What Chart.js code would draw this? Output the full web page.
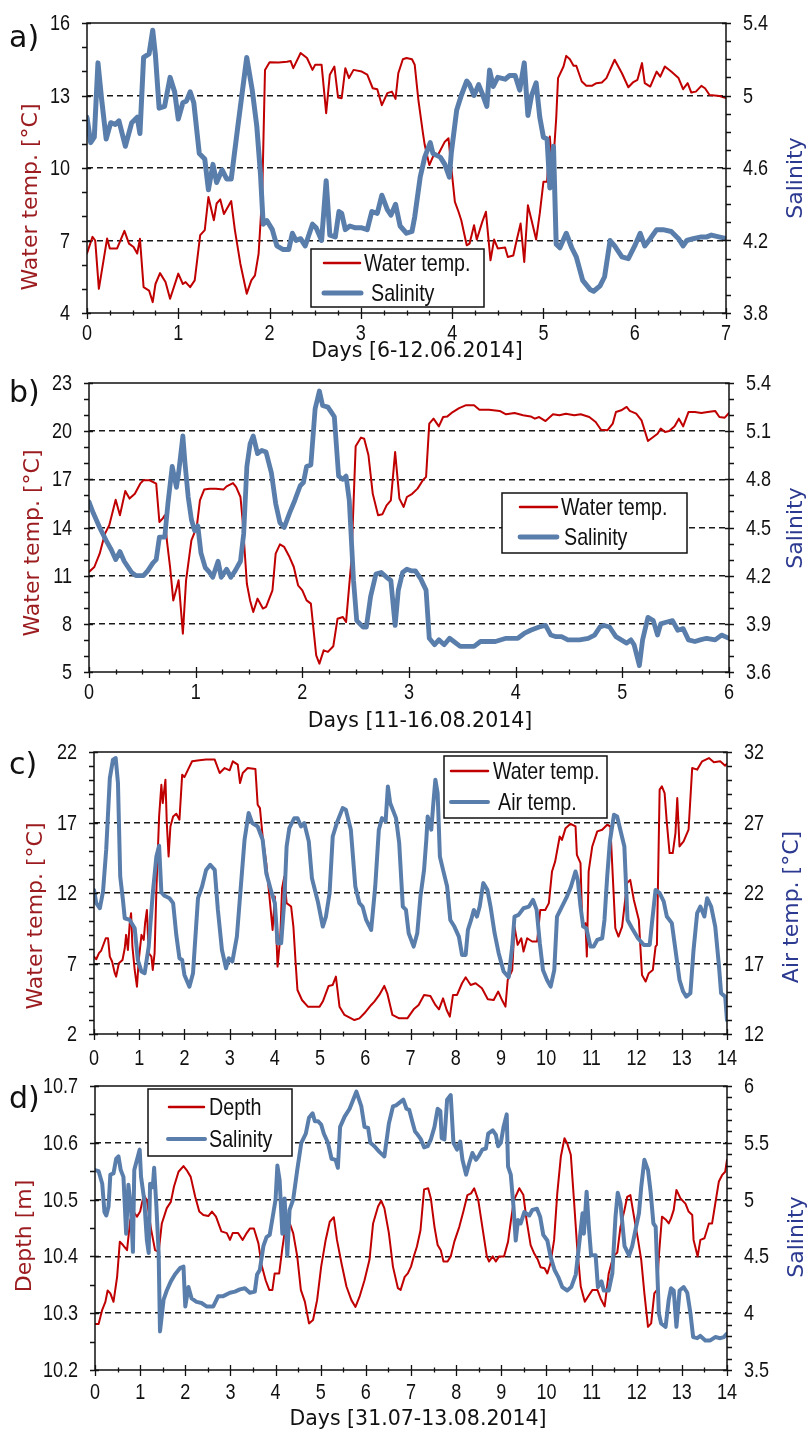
<!DOCTYPE html>
<html>
<head>
<meta charset="utf-8">
<script src="https://cdn.jsdelivr.net/npm/chart.js@4.4.1/dist/chart.umd.min.js"></script>
<style>
  body { margin: 0; background: #fff; }
  #wrap { position: relative; width: 809px; height: 1435px; }
  #wrap canvas { position: absolute; left: 0; }
</style>
</head>
<body>
<div id="wrap">
  <canvas id="panelA" width="809" height="364" style="top:0px"></canvas>
  <canvas id="panelB" width="809" height="370" style="top:364px"></canvas>
  <canvas id="panelC" width="809" height="336" style="top:734px"></canvas>
  <canvas id="panelD" width="809" height="365" style="top:1070px"></canvas>
</div>
<script>
// ---- data: [day, value] ----
const waterTempA = [[0,6.46],[0.06,7.15],[0.09,7.0],[0.13,5.0],[0.22,7.08],[0.25,6.67],[0.33,6.67],[0.41,7.4],[0.46,6.87],[0.51,6.73],[0.55,6.46],[0.58,7.07],[0.62,5.07],[0.68,4.93],[0.72,4.45],[0.75,5.2],[0.8,5.65],[0.86,5.28],[0.91,4.59],[1.0,5.63],[1.05,5.2],[1.08,5.28],[1.13,5.07],[1.18,5.35],[1.24,7.22],[1.29,7.43],[1.33,8.8],[1.39,7.84],[1.42,8.53],[1.46,8.7],[1.5,8.1],[1.58,8.63],[1.62,7.43],[1.68,6.04],[1.75,4.8],[1.8,5.35],[1.84,5.56],[1.88,6.46],[1.92,8.95],[1.95,14.06],[2.0,14.38],[2.1,14.37],[2.19,14.4],[2.23,14.43],[2.26,14.13],[2.34,14.76],[2.41,14.55],[2.47,14.06],[2.5,14.27],[2.57,14.27],[2.62,12.27],[2.66,13.86],[2.71,14.2],[2.75,12.92],[2.79,12.89],[2.83,14.13],[2.87,13.72],[2.92,14.06],[3.01,13.99],[3.07,13.86],[3.13,13.3],[3.18,13.26],[3.23,12.6],[3.29,13.1],[3.34,13.16],[3.38,12.86],[3.41,13.92],[3.46,14.5],[3.5,14.55],[3.56,14.5],[3.59,14.27],[3.63,12.82],[3.68,11.44],[3.7,10.95],[3.75,10.12],[3.79,10.47],[3.85,10.58],[3.92,11.09],[3.96,11.23],[3.99,10.05],[4.03,8.6],[4.07,8.19],[4.1,7.84],[4.16,6.8],[4.19,6.87],[4.24,7.63],[4.27,7.04],[4.33,7.77],[4.37,8.19],[4.42,6.18],[4.46,7.04],[4.5,6.67],[4.58,6.71],[4.61,6.32],[4.67,6.38],[4.7,6.9],[4.75,7.7],[4.79,6.11],[4.83,8.46],[4.87,7.84],[4.92,7.04],[4.96,8.12],[5.0,9.43],[5.04,9.43],[5.07,11.3],[5.1,9.78],[5.14,12.06],[5.16,13.72],[5.22,14.2],[5.25,14.64],[5.29,14.5],[5.33,14.23],[5.36,14.23],[5.42,13.58],[5.47,13.4],[5.53,13.4],[5.58,13.51],[5.64,13.54],[5.69,13.72],[5.73,14.06],[5.78,14.48],[5.86,13.92],[5.93,13.34],[5.98,13.54],[6.03,13.65],[6.08,14.34],[6.11,13.51],[6.17,13.37],[6.24,13.99],[6.28,13.78],[6.33,14.2],[6.4,13.99],[6.48,13.72],[6.53,13.26],[6.58,13.51],[6.62,13.12],[6.67,13.16],[6.73,13.4],[6.77,13.3],[6.82,13.02],[6.93,12.98],[7.0,12.89]];
const salinityA = [[0,4.88],[0.04,4.74],[0.08,4.77],[0.12,5.18],[0.16,4.98],[0.21,4.76],[0.26,4.85],[0.31,4.84],[0.35,4.86],[0.42,4.72],[0.49,4.85],[0.55,4.88],[0.58,4.79],[0.62,5.21],[0.68,5.23],[0.72,5.36],[0.75,5.22],[0.79,4.93],[0.85,4.94],[0.91,5.1],[0.96,5.02],[1.0,4.87],[1.05,4.96],[1.09,4.97],[1.13,5.02],[1.17,4.96],[1.23,4.68],[1.29,4.65],[1.33,4.48],[1.38,4.62],[1.42,4.52],[1.48,4.59],[1.53,4.54],[1.58,4.54],[1.65,4.82],[1.75,5.21],[1.81,5.03],[1.86,4.83],[1.9,4.57],[1.93,4.29],[1.97,4.31],[2.03,4.26],[2.08,4.17],[2.15,4.15],[2.21,4.15],[2.25,4.24],[2.29,4.2],[2.34,4.21],[2.39,4.17],[2.47,4.29],[2.51,4.27],[2.57,4.2],[2.62,4.53],[2.66,4.23],[2.72,4.22],[2.76,4.36],[2.79,4.35],[2.83,4.26],[2.88,4.28],[2.94,4.27],[3.01,4.27],[3.07,4.26],[3.12,4.36],[3.18,4.35],[3.23,4.45],[3.29,4.37],[3.33,4.34],[3.38,4.4],[3.43,4.28],[3.5,4.24],[3.56,4.25],[3.59,4.33],[3.65,4.55],[3.7,4.66],[3.76,4.74],[3.79,4.68],[3.87,4.66],[3.92,4.62],[3.97,4.55],[3.99,4.68],[4.05,4.92],[4.1,5.0],[4.16,5.08],[4.19,5.06],[4.24,5.0],[4.29,5.06],[4.33,5.01],[4.38,4.94],[4.41,5.14],[4.45,5.05],[4.5,5.1],[4.58,5.09],[4.63,5.11],[4.69,5.11],[4.74,5.03],[4.79,5.18],[4.83,4.89],[4.87,5.0],[4.92,5.07],[4.96,4.88],[5.0,4.77],[5.04,4.76],[5.07,4.49],[5.11,4.72],[5.14,4.18],[5.18,4.16],[5.25,4.24],[5.31,4.16],[5.36,4.11],[5.43,3.98],[5.51,3.93],[5.55,3.92],[5.62,3.95],[5.67,4.0],[5.73,4.2],[5.78,4.17],[5.86,4.11],[5.93,4.1],[6.0,4.17],[6.06,4.24],[6.11,4.17],[6.17,4.21],[6.24,4.26],[6.31,4.26],[6.4,4.25],[6.48,4.21],[6.53,4.17],[6.57,4.2],[6.64,4.21],[6.73,4.22],[6.79,4.22],[6.84,4.23],[6.92,4.22],[7.0,4.21]];

const waterTempB = [[0,11.23],[0.05,11.54],[0.1,12.37],[0.15,13.62],[0.19,14.14],[0.25,15.73],[0.29,14.76],[0.34,16.27],[0.38,15.8],[0.43,16.1],[0.48,16.73],[0.51,16.94],[0.57,16.94],[0.63,16.73],[0.66,14.34],[0.69,14.55],[0.71,14.76],[0.73,13.2],[0.76,11.54],[0.79,9.46],[0.82,10.19],[0.84,10.71],[0.88,7.39],[0.91,10.71],[0.96,13.2],[1.01,14.03],[1.04,15.69],[1.08,16.36],[1.13,16.42],[1.19,16.42],[1.26,16.36],[1.29,16.56],[1.35,16.77],[1.38,16.52],[1.42,15.9],[1.44,14.45],[1.48,10.5],[1.51,9.46],[1.54,8.74],[1.58,9.57],[1.63,8.95],[1.66,9.05],[1.72,10.09],[1.75,12.37],[1.79,12.95],[1.83,12.79],[1.88,12.16],[1.92,11.54],[1.96,10.4],[2.0,10.09],[2.04,9.46],[2.08,9.26],[2.13,6.04],[2.16,5.52],[2.2,6.35],[2.24,6.25],[2.29,6.6],[2.33,8.32],[2.38,8.43],[2.41,8.11],[2.46,11.96],[2.5,19.06],[2.55,19.6],[2.58,19.53],[2.62,18.5],[2.66,16.11],[2.71,14.76],[2.75,14.82],[2.79,15.38],[2.83,15.69],[2.87,18.7],[2.91,15.8],[2.95,15.28],[2.98,15.9],[3.03,16.1],[3.08,16.42],[3.13,16.94],[3.16,17.15],[3.19,20.47],[3.23,20.78],[3.28,20.3],[3.32,20.88],[3.36,20.92],[3.41,21.19],[3.47,21.44],[3.53,21.61],[3.61,21.61],[3.66,21.34],[3.75,21.34],[3.85,21.26],[3.91,21.05],[3.99,21.13],[4.07,20.99],[4.14,20.92],[4.18,20.78],[4.22,20.88],[4.28,20.63],[4.35,21.05],[4.41,20.99],[4.47,21.09],[4.55,20.99],[4.61,21.05],[4.69,20.88],[4.75,20.57],[4.8,20.09],[4.86,20.05],[4.91,20.47],[4.94,21.19],[4.99,21.3],[5.04,21.51],[5.07,21.26],[5.13,21.09],[5.18,20.67],[5.24,19.39],[5.29,19.64],[5.33,19.84],[5.36,20.16],[5.4,19.95],[5.44,20.01],[5.49,20.3],[5.53,20.78],[5.57,20.3],[5.62,21.19],[5.68,21.19],[5.74,21.13],[5.8,21.19],[5.87,21.26],[5.91,20.88],[5.96,20.84],[6.0,21.13]];
const salinityB = [[0,4.66],[0.04,4.59],[0.1,4.5],[0.16,4.42],[0.21,4.36],[0.25,4.3],[0.29,4.35],[0.33,4.29],[0.4,4.22],[0.44,4.2],[0.51,4.2],[0.55,4.23],[0.6,4.28],[0.63,4.3],[0.66,4.44],[0.71,4.44],[0.74,4.65],[0.78,4.88],[0.82,4.75],[0.84,4.84],[0.88,5.07],[0.9,4.9],[0.93,4.69],[0.96,4.55],[0.99,4.48],[1.02,4.51],[1.05,4.34],[1.09,4.25],[1.13,4.22],[1.16,4.19],[1.21,4.29],[1.24,4.19],[1.29,4.24],[1.33,4.19],[1.37,4.23],[1.42,4.29],[1.45,4.46],[1.48,4.88],[1.51,5.02],[1.54,5.07],[1.58,4.96],[1.62,4.98],[1.66,4.97],[1.71,4.84],[1.75,4.65],[1.79,4.53],[1.83,4.5],[1.88,4.59],[1.93,4.67],[1.98,4.76],[2.01,4.78],[2.04,4.88],[2.08,4.89],[2.12,5.24],[2.16,5.35],[2.19,5.26],[2.24,5.25],[2.27,5.22],[2.3,5.19],[2.34,4.82],[2.38,4.8],[2.41,4.82],[2.44,4.67],[2.48,4.17],[2.51,3.92],[2.57,3.88],[2.6,3.88],[2.64,4.07],[2.69,4.21],[2.74,4.22],[2.79,4.19],[2.83,4.17],[2.87,3.89],[2.9,4.11],[2.94,4.22],[2.98,4.24],[3.02,4.23],[3.06,4.23],[3.11,4.18],[3.16,4.11],[3.19,3.81],[3.24,3.77],[3.28,3.8],[3.33,3.77],[3.38,3.81],[3.42,3.79],[3.48,3.76],[3.56,3.76],[3.61,3.76],[3.67,3.79],[3.74,3.79],[3.81,3.79],[3.91,3.81],[4.02,3.81],[4.08,3.84],[4.14,3.86],[4.22,3.88],[4.28,3.89],[4.33,3.83],[4.38,3.82],[4.43,3.82],[4.49,3.8],[4.6,3.8],[4.68,3.81],[4.74,3.83],[4.79,3.88],[4.83,3.89],[4.88,3.88],[4.94,3.82],[4.99,3.8],[5.04,3.78],[5.08,3.8],[5.11,3.77],[5.16,3.64],[5.19,3.8],[5.24,3.94],[5.29,3.92],[5.33,3.83],[5.36,3.9],[5.41,3.91],[5.47,3.92],[5.52,3.86],[5.57,3.87],[5.62,3.8],[5.68,3.79],[5.73,3.8],[5.79,3.81],[5.87,3.8],[5.93,3.83],[6.0,3.81]];

const waterTempC = [[0,7.49],[0.05,7.3],[0.11,7.73],[0.16,7.92],[0.26,8.79],[0.31,8.79],[0.35,7.49],[0.4,7.14],[0.46,6.31],[0.49,6.07],[0.55,7.02],[0.63,7.25],[0.68,8.08],[0.71,9.03],[0.75,7.96],[0.79,9.86],[0.82,10.57],[0.85,8.2],[0.9,6.54],[0.95,5.36],[0.99,7.25],[1.05,9.03],[1.1,8.67],[1.13,9.86],[1.17,10.8],[1.21,7.73],[1.27,7.49],[1.3,6.54],[1.34,7.73],[1.38,12.22],[1.44,17.43],[1.49,19.68],[1.52,18.38],[1.58,20.04],[1.61,16.96],[1.65,14.59],[1.69,16.72],[1.75,17.43],[1.82,17.62],[1.89,17.2],[1.95,20.39],[2.0,20.22],[2.08,20.75],[2.17,21.34],[2.33,21.41],[2.48,21.46],[2.67,21.46],[2.78,20.51],[2.89,20.86],[3.0,20.7],[3.07,21.34],[3.18,21.1],[3.23,19.8],[3.29,20.51],[3.4,20.86],[3.57,20.79],[3.62,18.26],[3.67,18.02],[3.73,16.0],[3.81,14.12],[3.88,11.75],[3.95,9.38],[4.0,11.75],[4.06,6.78],[4.12,8.91],[4.16,12.34],[4.21,13.17],[4.26,11.28],[4.36,11.04],[4.41,9.62],[4.46,7.02],[4.5,5.12],[4.6,4.41],[4.73,3.94],[4.87,3.94],[4.99,3.94],[5.06,4.3],[5.19,5.41],[5.28,5.48],[5.35,6.07],[5.43,3.94],[5.54,3.35],[5.76,2.99],[5.87,3.11],[5.98,3.47],[6.13,4.06],[6.2,4.3],[6.31,4.77],[6.42,5.41],[6.49,4.84],[6.6,3.35],[6.75,3.11],[6.93,3.11],[7.07,3.75],[7.18,4.06],[7.3,4.77],[7.44,4.7],[7.55,4.06],[7.63,3.75],[7.72,4.53],[7.8,3.7],[7.87,3.23],[7.94,4.77],[8.03,4.77],[8.14,5.6],[8.22,6.02],[8.33,5.48],[8.44,5.6],[8.58,5.24],[8.71,4.46],[8.84,4.41],[8.94,5.01],[9.03,4.37],[9.1,3.94],[9.15,5.83],[9.25,6.54],[9.3,9.62],[9.37,8.32],[9.45,8.79],[9.5,7.85],[9.58,8.79],[9.69,8.56],[9.8,8.56],[9.87,10.8],[9.98,10.8],[10.06,11.28],[10.13,13.53],[10.2,14.24],[10.3,16.01],[10.35,15.77],[10.43,16.6],[10.54,16.91],[10.65,16.72],[10.68,14.71],[10.76,14.12],[10.8,9.62],[10.87,9.86],[10.9,7.49],[10.94,13.53],[11.02,15.3],[11.13,16.37],[11.24,16.49],[11.35,16.84],[11.42,16.72],[11.53,9.5],[11.6,8.91],[11.68,9.62],[11.79,12.7],[11.86,12.93],[11.94,11.51],[12.05,10.09],[12.12,6.19],[12.2,5.72],[12.27,6.31],[12.36,6.54],[12.42,8.2],[12.45,8.32],[12.51,19.33],[12.56,19.56],[12.62,19.09],[12.67,16.96],[12.73,14.83],[12.8,14.83],[12.86,16.25],[12.9,18.73],[12.95,15.3],[13.04,15.66],[13.15,16.49],[13.23,20.86],[13.34,20.75],[13.45,21.34],[13.6,21.57],[13.71,21.27],[13.85,21.34],[13.96,21.03],[14.0,21.17]];
const airTempC = [[0,22.22],[0.05,21.28],[0.13,20.92],[0.2,22.11],[0.27,25.07],[0.35,30.15],[0.42,31.46],[0.48,31.57],[0.53,29.8],[0.58,23.17],[0.64,21.51],[0.68,20.21],[0.79,20.09],[0.9,19.5],[0.97,17.25],[1.05,16.43],[1.12,16.31],[1.21,18.2],[1.3,21.99],[1.38,24.59],[1.44,25.35],[1.49,22.04],[1.56,21.8],[1.67,21.63],[1.75,21.28],[1.82,19.03],[1.89,17.37],[1.95,17.25],[2.0,16.19],[2.11,15.36],[2.19,16.31],[2.3,21.63],[2.39,22.46],[2.48,23.64],[2.57,24.0],[2.67,23.64],[2.74,20.8],[2.83,17.96],[2.92,16.66],[2.98,17.37],[3.06,17.14],[3.16,18.91],[3.23,21.75],[3.33,25.78],[3.42,27.67],[3.5,26.96],[3.62,26.72],[3.73,25.78],[3.81,23.41],[3.92,22.11],[4.0,21.28],[4.06,18.44],[4.14,18.44],[4.21,21.51],[4.26,25.3],[4.32,26.6],[4.43,27.31],[4.5,27.31],[4.58,26.72],[4.65,26.96],[4.75,25.66],[4.82,23.05],[4.95,21.4],[5.06,19.62],[5.13,20.33],[5.21,21.99],[5.28,26.01],[5.37,26.96],[5.5,28.02],[5.57,27.9],[5.68,26.49],[5.78,22.46],[5.87,21.28],[5.94,21.04],[6.02,20.09],[6.13,19.38],[6.22,22.46],[6.3,26.49],[6.37,27.31],[6.45,27.08],[6.5,29.56],[6.55,28.38],[6.68,27.31],[6.75,25.54],[6.83,21.04],[6.9,20.8],[6.96,19.15],[7.07,18.2],[7.15,19.15],[7.22,21.75],[7.3,23.64],[7.35,25.78],[7.38,27.43],[7.46,26.49],[7.5,28.14],[7.55,30.04],[7.6,29.09],[7.65,24.59],[7.72,23.64],[7.81,22.46],[7.88,20.09],[7.97,19.62],[8.07,18.91],[8.14,17.61],[8.22,17.61],[8.27,19.38],[8.34,20.09],[8.4,20.8],[8.47,20.33],[8.53,21.04],[8.61,22.7],[8.7,22.22],[8.77,21.04],[8.86,19.15],[8.95,17.73],[9.06,16.43],[9.17,16.02],[9.25,18.2],[9.3,20.33],[9.39,20.45],[9.5,20.92],[9.62,21.04],[9.71,21.51],[9.79,20.8],[9.86,18.44],[9.93,16.54],[10.02,15.83],[10.1,15.36],[10.18,16.54],[10.24,20.33],[10.35,21.04],[10.46,21.75],[10.55,22.46],[10.65,23.53],[10.7,22.93],[10.76,21.04],[10.82,19.62],[10.89,19.5],[10.98,18.2],[11.05,18.2],[11.13,18.67],[11.24,18.79],[11.29,20.09],[11.35,23.17],[11.41,25.66],[11.5,27.55],[11.57,27.43],[11.64,26.49],[11.73,25.3],[11.8,20.09],[11.9,19.5],[12.03,18.79],[12.16,18.32],[12.29,18.32],[12.34,19.86],[12.42,22.22],[12.51,21.99],[12.6,21.4],[12.67,20.33],[12.78,19.86],[12.88,17.49],[12.95,15.83],[13.03,15.01],[13.1,14.65],[13.19,14.89],[13.26,17.96],[13.34,20.57],[13.41,21.04],[13.5,20.33],[13.56,21.63],[13.65,21.04],[13.74,19.62],[13.82,16.9],[13.87,14.89],[13.96,14.65],[14.0,12.99]];

const depthD = [[0,10.281],[0.08,10.281],[0.16,10.306],[0.23,10.32],[0.28,10.34],[0.34,10.335],[0.41,10.32],[0.49,10.364],[0.55,10.426],[0.62,10.42],[0.71,10.411],[0.78,10.464],[0.85,10.479],[0.93,10.47],[1.0,10.479],[1.08,10.508],[1.15,10.499],[1.24,10.449],[1.33,10.411],[1.41,10.408],[1.48,10.458],[1.59,10.485],[1.68,10.496],[1.75,10.523],[1.85,10.549],[1.96,10.559],[2.03,10.552],[2.12,10.54],[2.22,10.505],[2.31,10.479],[2.4,10.473],[2.51,10.471],[2.59,10.479],[2.68,10.47],[2.8,10.444],[2.92,10.441],[2.99,10.429],[3.05,10.441],[3.17,10.441],[3.27,10.429],[3.36,10.441],[3.43,10.449],[3.52,10.449],[3.62,10.423],[3.69,10.385],[3.78,10.358],[3.86,10.341],[3.93,10.341],[3.98,10.37],[4.08,10.37],[4.15,10.414],[4.23,10.458],[4.31,10.459],[4.39,10.441],[4.48,10.4],[4.56,10.341],[4.65,10.32],[4.74,10.282],[4.83,10.288],[4.92,10.323],[5.01,10.382],[5.11,10.429],[5.2,10.461],[5.29,10.469],[5.36,10.429],[5.46,10.388],[5.57,10.347],[5.68,10.323],[5.77,10.311],[5.86,10.329],[5.97,10.358],[6.08,10.394],[6.16,10.458],[6.27,10.488],[6.34,10.498],[6.41,10.485],[6.51,10.441],[6.6,10.382],[6.71,10.344],[6.77,10.341],[6.86,10.364],[6.93,10.37],[7.0,10.382],[7.07,10.402],[7.13,10.417],[7.21,10.446],[7.29,10.518],[7.38,10.52],[7.44,10.502],[7.52,10.452],[7.59,10.42],[7.66,10.411],[7.72,10.391],[7.81,10.391],[7.88,10.4],[7.96,10.426],[8.07,10.452],[8.16,10.479],[8.25,10.508],[8.33,10.511],[8.4,10.52],[8.49,10.499],[8.58,10.452],[8.68,10.4],[8.73,10.391],[8.81,10.4],[8.88,10.391],[8.95,10.4],[9.06,10.4],[9.15,10.426],[9.21,10.461],[9.28,10.499],[9.4,10.52],[9.49,10.508],[9.56,10.464],[9.65,10.42],[9.73,10.405],[9.81,10.394],[9.87,10.381],[9.96,10.379],[10.02,10.37],[10.09,10.388],[10.17,10.429],[10.24,10.511],[10.32,10.576],[10.4,10.608],[10.46,10.599],[10.54,10.579],[10.61,10.499],[10.68,10.417],[10.76,10.347],[10.85,10.32],[10.92,10.329],[11.02,10.341],[11.13,10.341],[11.2,10.326],[11.29,10.312],[11.38,10.37],[11.48,10.4],[11.57,10.407],[11.64,10.452],[11.73,10.482],[11.79,10.505],[11.86,10.508],[11.94,10.47],[12.03,10.429],[12.1,10.394],[12.17,10.335],[12.25,10.276],[12.32,10.282],[12.39,10.335],[12.45,10.341],[12.49,10.4],[12.56,10.47],[12.64,10.465],[12.71,10.458],[12.76,10.467],[12.82,10.482],[12.88,10.517],[12.97,10.502],[13.08,10.493],[13.15,10.479],[13.23,10.473],[13.26,10.429],[13.35,10.4],[13.41,10.429],[13.5,10.432],[13.6,10.458],[13.67,10.458],[13.74,10.493],[13.82,10.532],[13.89,10.543],[13.96,10.549],[14.0,10.57]];
const salinityD = [[0,5.26],[0.08,5.25],[0.16,5.14],[0.21,4.89],[0.25,4.86],[0.3,4.94],[0.34,5.22],[0.41,5.23],[0.47,5.36],[0.52,5.38],[0.57,5.26],[0.63,5.2],[0.69,4.7],[0.74,5.13],[0.8,4.91],[0.84,4.54],[0.87,5.26],[0.93,5.35],[0.99,5.44],[1.02,5.2],[1.09,5.0],[1.15,4.64],[1.19,4.53],[1.22,5.14],[1.28,5.11],[1.31,5.28],[1.36,4.94],[1.41,4.53],[1.44,3.84],[1.52,4.12],[1.59,4.2],[1.68,4.28],[1.77,4.34],[1.89,4.4],[1.96,4.41],[2.0,4.06],[2.07,4.23],[2.14,4.13],[2.25,4.1],[2.36,4.09],[2.47,4.06],[2.62,4.06],[2.73,4.15],[2.84,4.15],[2.99,4.18],[3.1,4.19],[3.21,4.21],[3.32,4.22],[3.43,4.18],[3.54,4.19],[3.59,4.34],[3.65,4.38],[3.73,4.59],[3.8,4.67],[3.87,4.69],[3.95,4.88],[4.0,5.0],[4.04,5.3],[4.09,5.17],[4.15,4.7],[4.2,5.01],[4.26,4.51],[4.31,4.91],[4.39,5.0],[4.48,5.26],[4.57,5.5],[4.67,5.58],[4.74,5.72],[4.82,5.76],[4.87,5.69],[4.94,5.69],[5.01,5.66],[5.07,5.58],[5.16,5.5],[5.24,5.36],[5.33,5.35],[5.38,5.28],[5.43,5.64],[5.53,5.73],[5.64,5.8],[5.79,5.95],[5.9,5.82],[5.97,5.64],[6.05,5.63],[6.1,5.5],[6.19,5.47],[6.3,5.42],[6.41,5.38],[6.51,5.67],[6.6,5.82],[6.67,5.83],[6.83,5.88],[6.9,5.8],[6.96,5.79],[7.04,5.67],[7.09,5.6],[7.15,5.57],[7.22,5.53],[7.29,5.46],[7.37,5.47],[7.44,5.53],[7.52,5.64],[7.59,5.8],[7.65,5.78],[7.68,5.54],[7.74,5.53],[7.8,5.88],[7.88,5.92],[7.94,5.5],[8.02,5.44],[8.09,5.51],[8.14,5.35],[8.22,5.22],[8.29,5.32],[8.36,5.41],[8.44,5.35],[8.51,5.39],[8.58,5.44],[8.66,5.45],[8.71,5.58],[8.81,5.61],[8.88,5.57],[8.93,5.47],[8.99,5.5],[9.05,5.64],[9.12,5.75],[9.15,5.29],[9.21,5.22],[9.27,4.94],[9.32,4.64],[9.37,4.82],[9.43,4.79],[9.51,4.89],[9.62,4.86],[9.69,4.91],[9.79,4.92],[9.86,4.85],[9.93,4.69],[10.02,4.64],[10.09,4.5],[10.18,4.38],[10.26,4.32],[10.35,4.23],[10.46,4.2],[10.55,4.23],[10.65,4.34],[10.72,4.59],[10.8,4.88],[10.83,4.7],[10.89,5.07],[10.94,4.76],[10.99,4.51],[11.09,4.51],[11.14,4.23],[11.22,4.28],[11.27,4.2],[11.38,4.2],[11.46,4.35],[11.53,4.85],[11.58,5.06],[11.64,4.97],[11.73,4.59],[11.83,4.51],[11.9,4.59],[11.97,4.73],[12.05,4.88],[12.1,5.11],[12.17,5.35],[12.25,5.26],[12.31,5.06],[12.37,4.79],[12.42,4.76],[12.49,4.0],[12.54,3.91],[12.64,3.88],[12.71,4.12],[12.76,4.22],[12.82,4.2],[12.88,3.88],[12.95,4.2],[13.04,4.23],[13.12,4.18],[13.19,4.0],[13.25,3.79],[13.34,3.78],[13.41,3.8],[13.52,3.76],[13.63,3.76],[13.74,3.79],[13.85,3.78],[13.93,3.79],[14.0,3.82]];

// axis ranges: [min, max, labelled step, minor step]
const daysA = [0, 7, 1, 0.25];
const daysB = [0, 6, 1, 0.25];
const days14 = [0, 14, 1, 0.5];
const tempAxisA = [4, 16, 3, 1];
const salAxisA = [3.8, 5.4, 0.4, 0.1];
const tempAxisB = [5, 23, 3, 1];
const salAxisB = [3.6, 5.4, 0.3, 0.1];
const waterAxisC = [2, 22, 5, 1];
const airAxisC = [12, 32, 5, 1];
const depthAxisD = [10.2, 10.7, 0.1, 0.05];
const salAxisD = [3.5, 6, 0.5, 0.1];

const RED = '#c00000';
const BLUE = '#5a7eab';
const TITLE_RED = '#9b1b1f';
const TITLE_BLUE = '#2b3990';
const SANS = "'Liberation Sans', Arial, sans-serif";

const toPoints = arr => arr.map(([x, y]) => ({ x, y }));
const steps = (min, max, st) => {
  const out = [];
  const n = Math.round((max - min) / st);
  for (let i = 0; i <= n; i++) out.push(Math.round((min + i * st) * 1000) / 1000);
  return out;
};
const onStep = (v, min, st) => {
  const k = (v - min) / st;
  return Math.abs(k - Math.round(k)) < 1e-6;
};
const fmt = v => String(Number(v.toFixed(3)));

function axis(range, pos, size, gridVals) {
  const [min, max, major, minor] = range;
  const horizontal = pos === 'bottom';
  return {
    type: 'linear', position: pos, min, max,
    afterBuildTicks: s => {
      s.ticks = steps(min, max, minor).map(v => ({ value: v, major: onStep(v, min, major) }));
    },
    afterFit: s => { if (horizontal) s.height = size; else s.width = size; },
    ticks: { display: false, autoSkip: false },
    grid: {
      drawOnChartArea: gridVals.length > 0, drawTicks: false, lineWidth: 1.4,
      color: c => gridVals.some(g => Math.abs(g - c.tick.value) < 1e-6) ? '#1a1a1a' : 'rgba(0,0,0,0)'
    },
    border: { display: false, dash: [6, 4] }
  };
}

// Arial-Narrow look: regular sans squeezed horizontally
function narrowText(ctx, text, x, y, align, size) {
  ctx.save();
  ctx.translate(x, y);
  ctx.scale(0.82, 1);
  ctx.textAlign = align;
  ctx.textBaseline = 'middle';
  ctx.font = `${size}px ${SANS}`;
  ctx.fillText(text, 0, 0);
  ctx.restore();
}

function vText(ctx, t, color) {
  ctx.save();
  ctx.translate(t.x, t.y);
  ctx.rotate(-Math.PI / 2);
  ctx.fillStyle = color;
  ctx.fillText(t.text, 0, 0);
  ctx.restore();
}

// frame, crossing tick marks, tick labels, legend box, axis titles, panel letter
const panelDecor = {
  id: 'panelDecor',
  afterDatasetsDraw(chart, args, o) {
    const { ctx, chartArea: a, scales } = chart;
    ctx.save();
    ctx.strokeStyle = '#111';
    ctx.lineWidth = 1.5;
    ctx.strokeRect(a.left, a.top, a.right - a.left, a.bottom - a.top);
    ctx.lineWidth = 1.3;
    ctx.beginPath();
    scales.x.ticks.forEach(t => {
      const px = Math.round(scales.x.getPixelForValue(t.value)) + 0.5;
      ctx.moveTo(px, a.bottom - (t.major ? 5 : 2.5));
      ctx.lineTo(px, a.bottom + (t.major ? 6 : 2.5));
    });
    ['y', 'y2'].forEach(id => {
      const s = scales[id];
      const edge = id === 'y' ? a.left : a.right;
      const dir = id === 'y' ? -1 : 1;
      s.ticks.forEach(t => {
        const py = Math.round(s.getPixelForValue(t.value)) + 0.5;
        ctx.moveTo(edge - dir * (t.major ? 4 : 0), py);
        ctx.lineTo(edge + dir * 5, py);
      });
    });
    ctx.stroke();

    // tick labels
    ctx.fillStyle = '#111';
    scales.x.ticks.filter(t => t.major).forEach(t => {
      narrowText(ctx, fmt(t.value), scales.x.getPixelForValue(t.value), a.bottom + o.xLabelGap, 'center', 22);
    });
    scales.y.ticks.filter(t => t.major).forEach(t => {
      narrowText(ctx, fmt(t.value), a.left - 17, scales.y.getPixelForValue(t.value) + 1, 'right', 22);
    });
    scales.y2.ticks.filter(t => t.major).forEach(t => {
      narrowText(ctx, fmt(t.value), a.right + 17, scales.y2.getPixelForValue(t.value) + 1, 'left', 22);
    });

    // legend
    const lg = o.legend;
    ctx.fillStyle = '#fff';
    ctx.fillRect(lg.x, lg.y, lg.w, lg.h);
    ctx.lineWidth = 1.5;
    ctx.strokeStyle = '#111';
    ctx.strokeRect(lg.x, lg.y, lg.w, lg.h);
    chart.data.datasets.forEach((ds, i) => {
      const r = lg.rows[i];
      ctx.strokeStyle = ds.borderColor;
      ctx.lineWidth = ds.borderWidth + (i === 0 ? 0.5 : 0);
      ctx.lineCap = 'round';
      ctx.beginPath();
      ctx.moveTo(r.x1, r.y);
      ctx.lineTo(r.x2, r.y);
      ctx.stroke();
      ctx.fillStyle = '#111';
      narrowText(ctx, ds.label, r.tx, r.y + 1, 'left', 24);
    });
    ctx.restore();
  },
  afterDraw(chart, args, o) {
    const ctx = chart.ctx;
    ctx.save();
    ctx.textAlign = 'center';
    ctx.textBaseline = 'middle';
    ctx.font = '22px "DejaVu Sans"';
    vText(ctx, o.leftTitle, TITLE_RED);
    vText(ctx, o.rightTitle, TITLE_BLUE);
    if (o.xTitle) {
      ctx.font = '20.5px "DejaVu Sans"';
      ctx.fillStyle = '#111';
      ctx.fillText(o.xTitle.text, o.xTitle.x, o.xTitle.y);
    }
    ctx.font = '30px "DejaVu Sans"';
    ctx.textAlign = 'left';
    ctx.fillStyle = '#111';
    ctx.fillText(o.tag.text, 9, o.tag.y);
    ctx.restore();
  }
};

function buildPanel(p) {
  return new Chart(document.getElementById(p.id), {
    type: 'line',
    data: {
      datasets: [
        { label: p.redLabel, data: toPoints(p.red), yAxisID: 'y', borderColor: RED, borderWidth: 2, order: 1 },
        { label: p.blueLabel, data: toPoints(p.blue), yAxisID: 'y2', borderColor: BLUE, borderWidth: p.blueWidth, order: 0 }
      ]
    },
    options: {
      responsive: false,
      animation: false,
      elements: {
        point: { radius: 0 },
        line: { tension: 0, borderJoinStyle: 'round', borderCapStyle: 'round' }
      },
      layout: { padding: { top: p.plotTop, left: 0, right: 0, bottom: 0 } },
      plugins: {
        legend: { display: false },
        tooltip: { enabled: false },
        panelDecor: p.decor
      },
      scales: {
        x: axis(p.xRange, 'bottom', p.xHeight, []),
        y: axis(p.leftRange, 'left', p.plotLeft, p.grid),
        y2: axis(p.rightRange, 'right', 809 - p.plotRight, [])
      }
    },
    plugins: [panelDecor]
  });
}

buildPanel({
  id: 'panelA', red: waterTempA, blue: salinityA, redLabel: 'Water temp.', blueLabel: 'Salinity', blueWidth: 5,
  xRange: daysA, leftRange: tempAxisA, rightRange: salAxisA, grid: [7, 10, 13],
  plotTop: 23, plotLeft: 87, plotRight: 726, xHeight: 51,
  decor: {
    xLabelGap: 21,
    tag: { text: 'a)', y: 39 },
    leftTitle: { text: 'Water temp. [°C]', x: 31, y: 197 },
    rightTitle: { text: 'Salinity', x: 796, y: 178 },
    xTitle: { text: 'Days [6-12.06.2014]', x: 417, y: 352 },
    legend: { x: 311, y: 249, w: 173, h: 58, rows: [{ y: 263, x1: 324, x2: 360, tx: 364 }, { y: 293, x1: 324, x2: 361, tx: 371 }] }
  }
});

buildPanel({
  id: 'panelB', red: waterTempB, blue: salinityB, redLabel: 'Water temp.', blueLabel: 'Salinity', blueWidth: 4.8,
  xRange: daysB, leftRange: tempAxisB, rightRange: salAxisB, grid: [8, 11, 14, 17, 20],
  plotTop: 19, plotLeft: 89, plotRight: 729, xHeight: 62,
  decor: {
    xLabelGap: 21,
    tag: { text: 'b)', y: 30 },
    leftTitle: { text: 'Water temp. [°C]', x: 33, y: 179 },
    rightTitle: { text: 'Salinity', x: 796, y: 164 },
    xTitle: { text: 'Days [11-16.08.2014]', x: 420, y: 358 },
    legend: { x: 502, y: 129, w: 185, h: 60, rows: [{ y: 143, x1: 520, x2: 557, tx: 561 }, { y: 173, x1: 520, x2: 557, tx: 564 }] }
  }
});

buildPanel({
  id: 'panelC', red: waterTempC, blue: airTempC, redLabel: 'Water temp.', blueLabel: 'Air temp.', blueWidth: 4,
  xRange: days14, leftRange: waterAxisC, rightRange: airAxisC, grid: [7, 12, 17],
  plotTop: 18, plotLeft: 94, plotRight: 727, xHeight: 36,
  decor: {
    xLabelGap: 25,
    tag: { text: 'c)', y: 32 },
    leftTitle: { text: 'Water temp. [°C]', x: 36, y: 182 },
    rightTitle: { text: 'Air temp. [°C]', x: 792, y: 173 },
    xTitle: null,
    legend: { x: 444, y: 22, w: 163, h: 62, rows: [{ y: 37, x1: 451, x2: 488, tx: 493 }, { y: 68, x1: 451, x2: 488, tx: 498 }] }
  }
});

buildPanel({
  id: 'panelD', red: depthD, blue: salinityD, redLabel: 'Depth', blueLabel: 'Salinity', blueWidth: 4,
  xRange: days14, leftRange: depthAxisD, rightRange: salAxisD, grid: [10.3, 10.4, 10.5, 10.6],
  plotTop: 16, plotLeft: 95, plotRight: 727, xHeight: 65,
  decor: {
    xLabelGap: 23,
    tag: { text: 'd)', y: 30 },
    leftTitle: { text: 'Depth [m]', x: 25, y: 166 },
    rightTitle: { text: 'Salinity', x: 797, y: 167 },
    xTitle: { text: 'Days [31.07-13.08.2014]', x: 418, y: 350 },
    legend: { x: 148, y: 19, w: 144, h: 67, rows: [{ y: 37, x1: 169, x2: 204, tx: 209 }, { y: 69, x1: 168, x2: 205, tx: 209 }] }
  }
});
</script>
</body>
</html>
